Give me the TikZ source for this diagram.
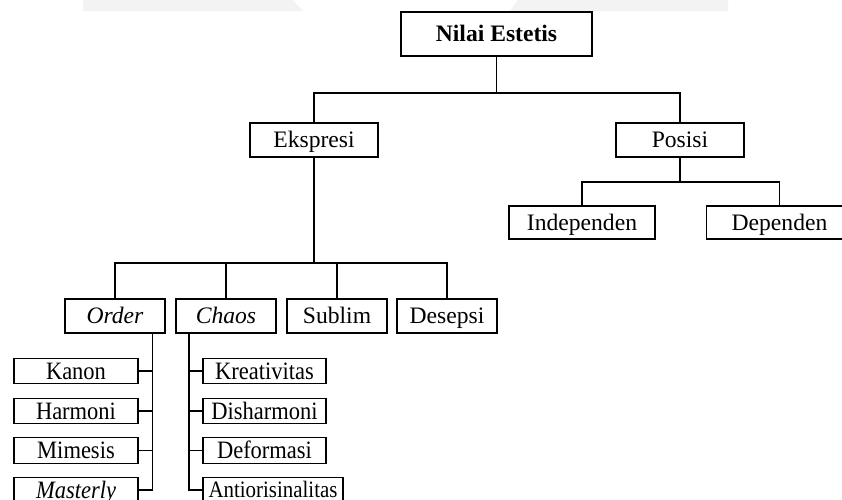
\documentclass[tikz,border=0pt]{standalone}
\usepackage{fontspec}
\setmainfont{Liberation Serif}
\newfontfamily\leaffont[FakeStretch=0.9]{Liberation Serif}
\newfontfamily\antiofont[FakeStretch=0.89]{Liberation Serif}
\definecolor{wm}{RGB}{243,243,243}
\tikzset{
  box/.style={draw, line width=1.3pt, inner sep=0pt, align=center, text height=15.6pt, text depth=0pt, font=\fontsize{23.6}{25}\selectfont},
  big/.style={box, minimum width=128pt, minimum height=34pt},
  mid/.style={box, minimum width=100pt, minimum height=34pt},
  leaf/.style={box, minimum height=25.5pt, text height=16.5pt, font=\leaffont\fontsize{25}{27}\selectfont},
  leafL/.style={leaf, minimum width=124pt},
  leafR/.style={leaf, minimum width=123pt},
  conn/.style={line width=1.3pt}
}
\begin{document}
\begin{tikzpicture}[x=1pt, y=-1pt]
\clip (0,0) rectangle (842,499);
\fill[white] (0,0) rectangle (842,499);
% faint watermark fragments
\fill[wm] (83,0) -- (293,0) -- (303,11) -- (83,11) -- cycle;
\fill[wm] (518,0) -- (728,0) -- (728,11) -- (510,11) -- cycle;

\node[box, minimum width=191pt, minimum height=44pt, font=\fontsize{23.6}{25}\selectfont\bfseries] (nilai) at (496.5,34) {Nilai Estetis};
\node[big] (eks) at (314,140) {Ekspresi};
\node[big] (pos) at (680,140) {Posisi};
\node[box, minimum width=146pt, minimum height=33pt] (ind) at (582,222.5) {Independen};
\node[box, minimum width=146pt, minimum height=33pt] (dep) at (779.5,222.5) {Dependen};

\node[mid] (order) at (115,316) {\itshape Order};
\node[mid] (chaos) at (226,316) {\itshape Chaos};
\node[mid] (sublim) at (337,316) {Sublim};
\node[mid] (desepsi) at (447,316) {Desepsi};

\node[leafL] (kanon) at (76,371) {Kanon};
\node[leafL] (harmoni) at (76,411) {Harmoni};
\node[leafL] (mimesis) at (76,450.5) {Mimesis};
\node[leafL] (masterly) at (76,490) {\itshape Masterly};

\node[leafR] (kreat) at (264.5,371) {Kreativitas};
\node[leafR] (dishar) at (264.5,411) {Disharmoni};
\node[leafR] (deform) at (264.5,450.5) {Deformasi};
\node[leaf, minimum width=140pt, text height=15.6pt, font=\antiofont\fontsize{23.5}{25}\selectfont] (antio) at (273,490) {Antiorisinalitas};

\coordinate (j1) at (496.5,93);
\coordinate (j2) at (680,182);
\coordinate (j3) at (314,263);
\coordinate (ob) at (152.7,490);
\coordinate (cb) at (189,490);

\draw[conn] (nilai) -- (j1);
\draw[conn] (eks.north) |- (j1) -| (pos.north);
\draw[conn] (pos) -- (j2);
\draw[conn] (ind.north) |- (j2) -| (dep.north);
\draw[conn] (eks) -- (j3);
\draw[conn] (order.north) |- (j3) -| (desepsi.north);
\draw[conn] (chaos.north) -- (chaos.north |- j3);
\draw[conn] (sublim.north) -- (sublim.north |- j3);

\draw[conn] (ob |- order.south) -- (ob) -- (masterly.east);
\draw[conn] (kanon.east) -- (kanon.east -| ob);
\draw[conn] (harmoni.east) -- (harmoni.east -| ob);
\draw[conn] (mimesis.east) -- (mimesis.east -| ob);

\draw[conn] (cb |- chaos.south) -- (cb) -- (antio.west);
\draw[conn] (kreat.west) -- (kreat.west -| cb);
\draw[conn] (dishar.west) -- (dishar.west -| cb);
\draw[conn] (deform.west) -- (deform.west -| cb);
\end{tikzpicture}
\end{document}
